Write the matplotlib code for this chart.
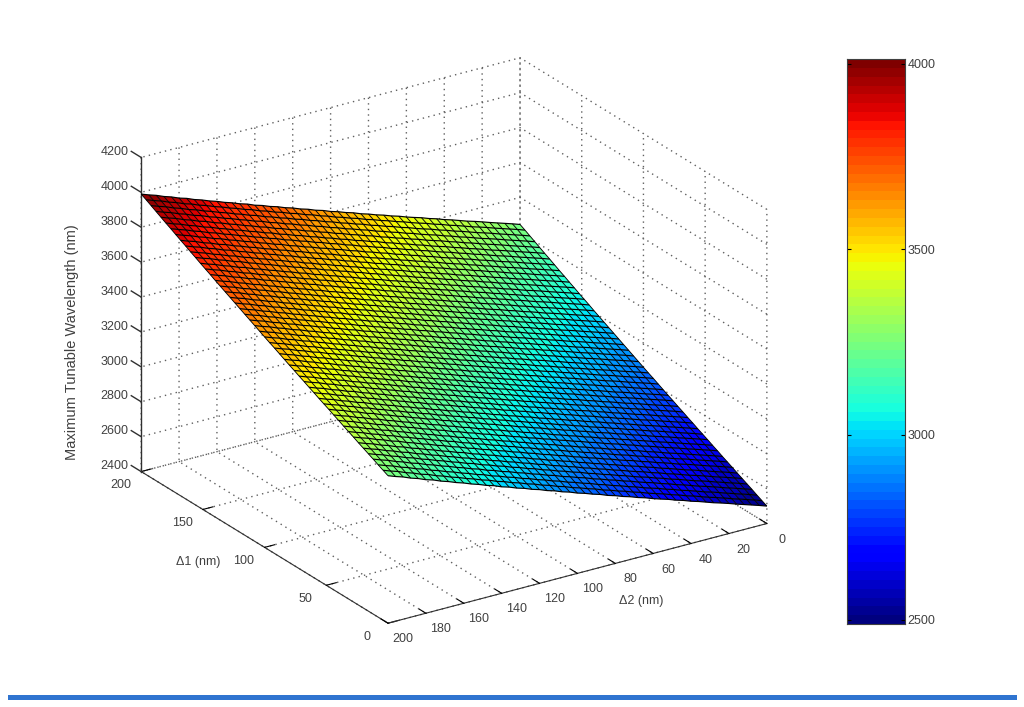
import matplotlib
matplotlib.use("Agg")
import matplotlib.pyplot as plt
import numpy as np
from matplotlib.patches import Rectangle
from mpl_toolkits.mplot3d import proj3d

# wavelength at delta1 = delta2 = 0, then rise read along the two surface edges (every 4 nm)
base_wavelength = 2500
rise_delta1 = [0, 14, 28, 43, 57, 71, 85, 100, 114, 128, 143, 157, 172, 186, 200, 215, 229,
               244, 258, 273, 287, 302, 317, 332, 346, 361, 376, 391, 406, 421, 436, 451,
               466, 481, 496, 511, 527, 542, 557, 573, 588, 604, 619, 635, 651, 666, 682,
               698, 714, 730, 745]
rise_delta2 = [0, 15, 29, 43, 57, 72, 86, 99, 114, 129, 142, 158, 171, 187, 200, 214, 230,
               243, 259, 272, 288, 301, 318, 331, 347, 360, 377, 390, 407, 420, 437, 450,
               467, 480, 497, 510, 528, 541, 558, 572, 589, 603, 620, 634, 652, 665, 683,
               697, 715, 729, 745]

delta1_ticks = [0, 50, 100, 150, 200]
delta2_ticks = [0, 20, 40, 60, 80, 100, 120, 140, 160, 180, 200]
wavelength_ticks = [2400, 2600, 2800, 3000, 3200, 3400, 3600, 3800, 4000, 4200]
colorbar_ticks = [2500, 3000, 3500, 4000]

W, H = 1024, 707
TEXT = "#404040"
LINE = "#303030"

plt.rcParams["font.family"] = "Liberation Sans"
plt.rcParams["grid.linestyle"] = (0, (1, 3))
plt.rcParams["grid.color"] = "#606060"
plt.rcParams["grid.linewidth"] = 1.0

fig = plt.figure(figsize=(W / 100, H / 100), dpi=100)

size = 704
ax = fig.add_axes([92.5 / W, 5 / H, size / W, size / H], projection="3d", proj_type="ortho",
                  computed_zorder=False)
ax.view_init(elev=23.7, azim=146.8)
ax.set_box_aspect((452, 454, 344))

delta1 = np.arange(0, 201, 4)
delta2 = np.arange(0, 201, 4)
D1, D2 = np.meshgrid(delta1, delta2)
Z = base_wavelength + np.array(rise_delta1)[None, :] + np.array(rise_delta2)[:, None]

jet = plt.get_cmap("jet", 64)
ax.plot_surface(D1, D2, Z, cmap=jet, vmin=2500, vmax=4000, rstride=1, cstride=1,
                edgecolor="none", linewidth=0, shade=False, zorder=2)
# mesh lines: the ones along delta2 read darker than the others
ax.plot_wireframe(D1, D2, Z, rstride=0, cstride=1, color="black", linewidth=0.85, zorder=3)
ax.plot_wireframe(D1, D2, Z, rstride=1, cstride=0, color="black", linewidth=0.65, zorder=3)

ax.set_xlim(0, 200)
ax.set_ylim(0, 200)
ax.set_zlim(2400, 4200)
ax.set_xticks(delta1_ticks)
ax.set_yticks(delta2_ticks)
ax.set_zticks(wavelength_ticks)
ax.set_xticklabels([])
ax.set_yticklabels([])
ax.set_zticklabels([])

for axis in (ax.xaxis, ax.yaxis, ax.zaxis):
    axis.set_pane_color((1, 1, 1, 0))
    axis.pane.set_edgecolor((1, 1, 1, 0))
    axis.line.set_color(LINE)
    axis._axinfo["tick"]["inward_factor"] = 0
    axis._axinfo["tick"]["outward_factor"] = 0.33
    axis._axinfo["tick"]["color"] = LINE


def tick_label(x, y, z, label, ha):
    # tick labels go in as 2D text at the projected spot of the 3D point
    px, py, _ = proj3d.proj_transform(x, y, z, ax.get_proj())
    ax.text2D(px, py, label, transform=ax.transData, fontsize=9, color=TEXT, ha=ha, va="center")


# mplot3d keeps its z axis on the right corner here, the chart has it on the left one
ax.zaxis.line.set_color((1, 1, 1, 0))
ax.tick_params(axis="z", color=(1, 1, 1, 0))
ax.zaxis._axinfo["tick"]["color"] = (1, 1, 1, 0)
ax.plot([200, 200], [200, 200], [2400, 4200], color=LINE, linewidth=1.0, zorder=1)
for value in wavelength_ticks:
    ax.plot([200, 208], [200, 200], [value, value], color=LINE, linewidth=1.0, zorder=1)
    tick_label(208, 201.5, value, str(value), "right")

for value in delta1_ticks:
    tick_label(value, 211, 2355, str(value), "center")
for value in delta2_ticks:
    tick_label(-12, value, 2360, str(value), "center")

fig.text(198 / W, 1 - 562 / H, "Δ1 (nm)", fontsize=9, color=TEXT, ha="center", va="center")
fig.text(641 / W, 1 - 601 / H, "Δ2 (nm)", fontsize=9, color=TEXT, ha="center", va="center")
fig.text(72 / W, 1 - 342 / H, "Maximum Tunable Wavelength (nm)", fontsize=10.5, color=TEXT,
         rotation=90, ha="center", va="center")

# colorbar
cax = fig.add_axes([847 / W, 1 - 624 / H, 58 / W, 565 / H])
cax.imshow(np.arange(64).reshape(-1, 1), cmap=jet, origin="lower", aspect="auto",
           extent=[0, 1, 2489, 4013])
cax.set_xticks([])
cax.set_yticks(colorbar_ticks)
cax.yaxis.tick_right()
cax.tick_params(axis="y", direction="in", left=True, right=True, length=3, pad=2,
                labelsize=9, labelcolor=TEXT)
for spine in cax.spines.values():
    spine.set_color("#404040")

# blue rule along the bottom of the slide
fig.add_artist(Rectangle((8 / W, 1 - 700 / H), 1009 / W, 5 / H, transform=fig.transFigure,
                         facecolor="#2f74d0", edgecolor="none"))

plt.savefig("out.png", dpi=100)
plt.close()
